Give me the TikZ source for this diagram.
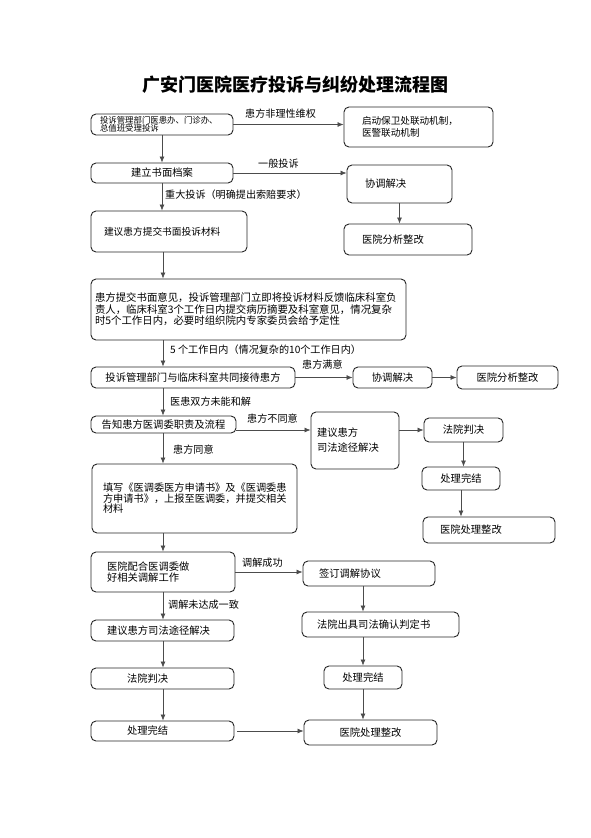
\documentclass[tikz,border=0pt]{standalone}
\usepackage{fontspec}
\setmainfont{Noto Sans CJK SC}
\usetikzlibrary{arrows.meta}
\tikzset{
 box/.style={draw=black!85, line width=0.9pt, rounded corners=5pt, inner sep=0pt, font=\fontsize{10.3}{11.5}\selectfont},
 lbox/.style={box, align=left},
 cbox/.style={box, align=center},
 arr/.style={draw=black!70, line width=0.7pt, -{Latex[length=6pt,width=5pt]}},
 lab/.style={anchor=west, inner sep=0pt, font=\fontsize{10.1}{12}\selectfont},
}
\begin{document}
\begin{tikzpicture}[x=1pt,y=-1pt]
\useasboundingbox[fill=white] (0,0) rectangle (591,838);
\coordinate (sp) at (163,0);
% title
\node[font=\fontsize{18}{20}\selectfont\bfseries] (title) at (295,85) {广安门医院医疗投诉与纠纷处理流程图};
% boxes
\node[lbox, minimum width=142pt, minimum height=21pt, text width=124pt, font=\fontsize{8.4}{8.5}\selectfont] (A) at (162,124.5) {投诉管理部门医患办、门诊办、\\总值班受理投诉};
\node[lbox, minimum width=149pt, minimum height=40pt, text width=113pt, font=\fontsize{9.6}{12}\selectfont] (B) at (418.5,127) {启动保卫处联动机制，\\医警联动机制};
\node[cbox, minimum width=142pt, minimum height=20pt] (C) at (162,173) {建立书面档案};
\node[lbox, minimum width=105pt, minimum height=38pt, text width=69pt] (D) at (399.5,184) {协调解决};
\node[lbox, minimum width=128pt, minimum height=31pt, text width=92pt] (E) at (408,239.5) {医院分析整改};
\node[lbox, minimum width=156pt, minimum height=41pt, text width=130pt, font=\fontsize{9.7}{11}\selectfont] (F) at (169,231.5) {建议患方提交书面投诉材料};
\node[lbox, minimum width=315pt, minimum height=61pt, text width=307pt, font=\fontsize{10.4}{11.5}\selectfont] (G) at (248.5,309.5) {患方提交书面意见，投诉管理部门立即将投诉材料反馈临床科室负\\责人，临床科室3个工作日内提交病历摘要及科室意见，情况复杂\\时5个工作日内，必要时组织院内专家委员会给予定性};
\node[cbox, minimum width=204pt, minimum height=21pt] (H) at (193,377.5) {投诉管理部门与临床科室共同接待患方};
\node[cbox, minimum width=79pt, minimum height=21pt] (I) at (392.5,377.5) {协调解决};
\node[cbox, minimum width=101pt, minimum height=23pt] (J) at (507.5,377.5) {医院分析整改};
\node[cbox, minimum width=145pt, minimum height=17pt] (K) at (163.5,424.5) {告知患方医调委职责及流程};
\node[lbox, minimum width=88pt, minimum height=57pt, text width=76pt, font=\fontsize{10.3}{15}\selectfont] (L) at (355,440.5) {建议患方\\司法途径解决};
\node[cbox, minimum width=79pt, minimum height=24pt] (M) at (463.5,430) {法院判决};
\node[cbox, minimum width=78pt, minimum height=23pt] (N) at (461,478.5) {处理完结};
\node[lbox, minimum width=132pt, minimum height=26pt, text width=98pt] (O) at (489,530) {医院处理整改};
\node[lbox, minimum width=205pt, minimum height=69pt, text width=183pt, font=\fontsize{10.2}{10.5}\selectfont] (P) at (194.5,498.5) {填写《医调委医方申请书》及《医调委患\\方申请书》，上报至医调委，并提交相关\\材料};
\node[lbox, minimum width=144pt, minimum height=40pt, text width=112pt, font=\fontsize{10.3}{11}\selectfont] (Q) at (163,572) {医院配合医调委做\\好相关调解工作};
\node[lbox, minimum width=132pt, minimum height=25pt, text width=100pt] (R) at (369,573.5) {签订调解协议};
\node[lbox, minimum width=157pt, minimum height=25pt, text width=127pt] (S) at (380.5,624.5) {法院出具司法确认判定书};
\node[lbox, minimum width=143pt, minimum height=21pt, text width=111pt] (T) at (162.5,630.5) {建议患方司法途径解决};
\node[lbox, minimum width=143pt, minimum height=21pt, text width=71pt] (U) at (162.5,678.5) {法院判决};
\node[lbox, minimum width=143pt, minimum height=20pt, text width=71pt] (V) at (162.5,731) {处理完结};
\node[cbox, minimum width=78pt, minimum height=23pt] (X) at (363,677.5) {处理完结};
\node[cbox, minimum width=133pt, minimum height=25pt] (W) at (370.5,732.5) {医院处理整改};
% connectors
\draw[arr] (A.east) -- (A.east -| B.west);
\draw[arr] (A.south) -- (A.south |- C.north);
\draw[arr] (C.east) -- (C.east -| D.west);
\draw[arr] (C.south) -- (C.south |- F.north);
\draw[arr] (D.south) -- (D.south |- E.north);
\draw[arr] (F.south -| sp) -- (G.north -| sp);
\draw[arr] (G.south -| sp) -- (H.north -| sp);
\draw[arr] (H.east) -- (I.west);
\draw[arr] (I.east) -- (J.west);
\draw[arr] (H.south -| sp) -- (K.north -| sp);
\draw[arr] (M.west -| K.east) -- (M.west -| L.west);
\draw[arr] (M.west -| L.east) -- (M.west);
\draw[arr] (M.south) -- (M.south |- N.north);
\draw[arr] (N.south) -- (N.south |- O.north);
\draw[arr] (K.south -| sp) -- (P.north -| sp);
\draw[arr] (P.south -| sp) -- (Q.north -| sp);
\draw[arr] (Q.east) -- (Q.east -| R.west);
\draw[arr] (Q.south -| sp) -- (T.north -| sp);
\draw[arr] (R.south -| X.north) -- (S.north -| X.north);
\draw[arr] (S.south -| X.north) -- (X.north);
\draw[arr] (X.south) -- (X.south |- W.north);
\draw[arr] (T.south -| sp) -- (U.north -| sp);
\draw[arr] (U.south -| sp) -- (V.north -| sp);
\draw[arr] ([xshift=3pt]V.east) -- (V.east -| W.west);
% labels
\node[lab] (l1) at (245,114) {患方非理性维权};
\node[lab] (l2) at (258,164) {一般投诉};
\node[lab] (l3) at (165,195) {重大投诉（明确提出索赔要求）};
\node[lab] (l4) at (170,350) {5 个工作日内（情况复杂的10个工作日内）};
\node[lab] (l5) at (302,365) {患方满意};
\node[lab] (l6) at (170,402) {医患双方未能和解};
\node[lab] (l7) at (247,419) {患方不同意};
\node[lab] (l8) at (173,450) {患方同意};
\node[lab] (l9) at (242,563) {调解成功};
\node[lab] (l10) at (168,605) {调解未达成一致};
\end{tikzpicture}
\end{document}
